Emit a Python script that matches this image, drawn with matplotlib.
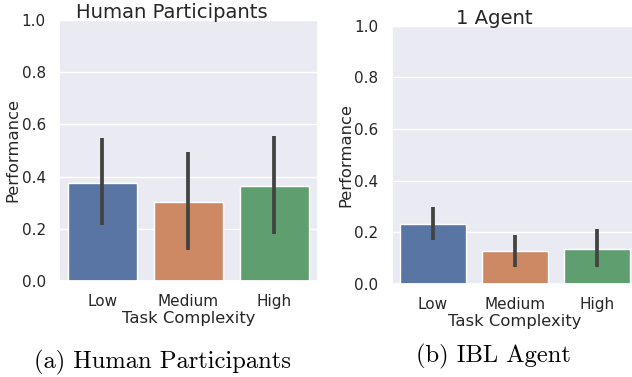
import matplotlib
matplotlib.use("Agg")
import matplotlib.pyplot as plt
import seaborn as sns

CATEGORIES = ["Low", "Medium", "High"]

HUMAN_MEAN = [0.375, 0.303, 0.364]
HUMAN_CI_LOW = [0.215, 0.119, 0.180]
HUMAN_CI_HIGH = [0.548, 0.493, 0.557]

AGENT_MEAN = [0.232, 0.127, 0.136]
AGENT_CI_LOW = [0.170, 0.065, 0.065]
AGENT_CI_HIGH = [0.297, 0.190, 0.212]

sns.set_theme(style="darkgrid")
plt.rcParams["font.family"] = ["DejaVu Sans"]

BAR_COLORS = sns.color_palette("deep", 3, desat=0.75)

W, H = 632, 377


def draw_panel(ax, means, lo, hi):
    x = range(len(CATEGORIES))
    ax.bar(x, means, width=0.8, color=BAR_COLORS, edgecolor="white", linewidth=1)
    ax.vlines(x, lo, hi, color=".26", linewidth=2.7)
    ax.set_xlim(-0.5, 2.5)
    ax.set_ylim(0, 1.0)
    ax.set_xticks(list(x))
    ax.set_xticklabels(CATEGORIES)
    ax.set_yticks([0.0, 0.2, 0.4, 0.6, 0.8, 1.0])
    ax.tick_params(labelsize=11)
    ax.set_xlabel("Task Complexity", fontsize=11.8, labelpad=1)
    ax.set_ylabel("Performance", fontsize=11.8)
    ax.grid(axis="x", visible=False)


fig = plt.figure(figsize=(W / 100, H / 100), dpi=100)

ax1 = fig.add_axes([59 / W, (H - 281) / H, 258.5 / W, 261 / H])
draw_panel(ax1, HUMAN_MEAN, HUMAN_CI_LOW, HUMAN_CI_HIGH)
ax1.yaxis.set_label_coords(-39 / 258.5, 0.5)

ax2 = fig.add_axes([391.5 / W, (H - 284) / H, 247 / W, 258.3 / H])
draw_panel(ax2, AGENT_MEAN, AGENT_CI_LOW, AGENT_CI_HIGH)
ax2.yaxis.set_label_coords(-38.5 / 247, 0.5)

fig.text(172 / W, 1 - 18 / H, "Human Participants", ha="center", va="baseline",
         fontsize=14.1, color=".15")
fig.text(494.5 / W, 1 - 24 / H, "1 Agent", ha="center", va="baseline",
         fontsize=14.1, color=".15")

fig.text(162 / W, 1 - 368 / H, "(a) Human Participants", ha="center", va="baseline",
         fontsize=17.7, family="cmr10", color="black")
fig.text(493.5 / W, 1 - 362 / H, "(b) IBL Agent", ha="center", va="baseline",
         fontsize=17.7, family="cmr10", color="black")

fig.savefig("out.png", dpi=100)
